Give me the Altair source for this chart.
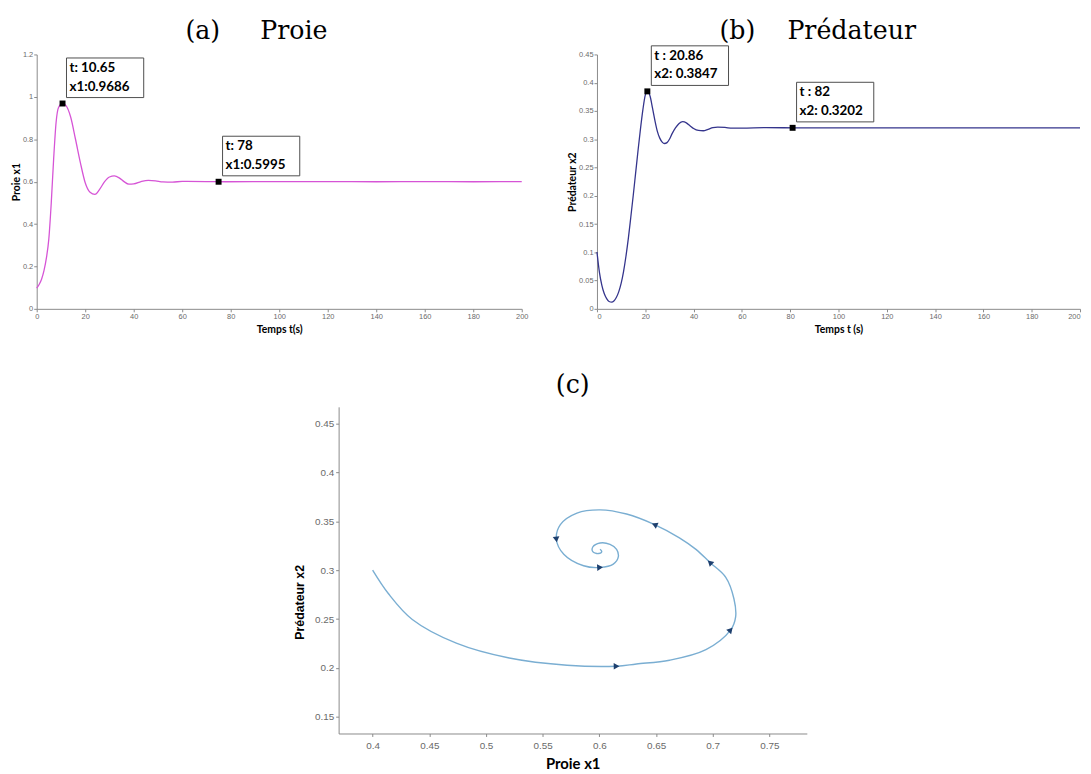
import math
import altair as alt
import pandas as pd

# ---------------- data ----------------
# (a) Proie x1 vs time
t_a = [0, 1, 2, 3, 4, 5, 6, 7, 8, 9, 10.65, 12, 14, 16, 18, 20, 22, 24, 26, 28, 30,
       32, 34, 36, 38, 40, 43, 46, 49, 52, 56, 60, 70, 78, 100, 120, 140, 160, 180, 200]
x1_a = [0.098, 0.115, 0.14, 0.18, 0.24, 0.33, 0.50, 0.71, 0.88, 0.95, 0.9686, 0.96, 0.905,
        0.80, 0.69, 0.595, 0.55, 0.54, 0.565, 0.60, 0.622, 0.627, 0.618, 0.600, 0.588,
        0.589, 0.600, 0.606, 0.604, 0.599, 0.598, 0.601, 0.600, 0.5995, 0.600, 0.600,
        0.5995, 0.600, 0.5995, 0.600]

# (b) Prédateur x2 vs time
t_b = [0, 1, 2, 3, 4, 5, 6.1, 7, 8, 9, 10, 11, 12, 13, 14, 15, 16, 17, 18, 19, 20, 20.86,
       22, 23, 24, 25, 26, 27, 28, 29, 30, 31, 32.5, 34, 35.5, 37, 38.5, 40, 42, 44, 46,
       48, 50, 53, 56, 60, 70, 82, 100, 120, 140, 160, 180, 200]
x2_b = [0.1006, 0.065, 0.042, 0.027, 0.018, 0.013, 0.012, 0.014, 0.02, 0.03, 0.045, 0.066,
        0.093, 0.125, 0.162, 0.2, 0.24, 0.28, 0.318, 0.352, 0.378, 0.3847, 0.376, 0.355,
        0.333, 0.314, 0.302, 0.295, 0.2925, 0.294, 0.30, 0.309, 0.32, 0.328, 0.331, 0.329,
        0.324, 0.319, 0.3155, 0.315, 0.3175, 0.3205, 0.3215, 0.321, 0.3195, 0.3195,
        0.3205, 0.3202, 0.320, 0.320, 0.320, 0.320, 0.320, 0.320]

# (c) phase portrait x1 -> x2
x1_c = [0.4000, 0.4140, 0.4350, 0.4738, 0.5205, 0.5715, 0.6152, 0.6327, 0.6619, 0.6940,
        0.7158, 0.7202, 0.7187, 0.7115, 0.6975, 0.6852, 0.6706, 0.6487, 0.6240, 0.6006,
        0.5802, 0.5656, 0.5621, 0.5686, 0.5861, 0.6006, 0.6123, 0.6167, 0.6152, 0.6094,
        0.6006, 0.5942, 0.5942, 0.5992, 0.6021, 0.6006]
x2_c = [0.3001, 0.2759, 0.2496, 0.2254, 0.2102, 0.2028, 0.2018, 0.2041, 0.2079, 0.2187,
        0.2389, 0.2523, 0.2708, 0.2927, 0.3079, 0.3213, 0.3331, 0.3466, 0.3574, 0.3617,
        0.3584, 0.3466, 0.3314, 0.3163, 0.3045, 0.3028, 0.3062, 0.3136, 0.3213, 0.3264,
        0.3278, 0.3237, 0.3190, 0.3170, 0.3190, 0.3213]
arrow_idx_c = [6, 10, 14, 17, 22, 25]

# data tips
tip_a_t = [10.65, 75]
tip_a_v = [0.9686, 0.5995]
tip_a_l1 = [" t: 10.65", " t: 78"]
tip_a_l2 = ["x1:0.9686", "x1:0.5995"]

tip_b_t = [20.86, 81]
tip_b_v = [0.3847, 0.3202]
tip_b_l1 = [" t : 20.86", " t : 82"]
tip_b_l2 = ["x2: 0.3847", "x2: 0.3202"]

x_ticks_time = [0, 20, 40, 60, 80, 100, 120, 140, 160, 180, 200]
y_ticks_a = [0, 0.2, 0.4, 0.6, 0.8, 1.0, 1.2]
y_ticks_b = [0, 0.05, 0.1, 0.15, 0.2, 0.25, 0.3, 0.35, 0.4, 0.45]
x_ticks_c = [0.4, 0.45, 0.5, 0.55, 0.6, 0.65, 0.7, 0.75]
y_ticks_c = [0.15, 0.2, 0.25, 0.3, 0.35, 0.4, 0.45]

# ---------------- styles ----------------
SERIF = "DejaVu Serif"
SANS = "Liberation Sans"
BOLD = "Lato"
AXIS_GREY = "#8a8a8a"
LABEL_GREY = "#6a6a6a"
TITLE_SIZE = 25.5


def small_axis(values, title, title_pad, flush=False):
    return alt.Axis(values=values, title=title, grid=False, format="~r",
                    domainColor=AXIS_GREY, tickColor=AXIS_GREY, tickSize=3,
                    labelColor=LABEL_GREY, labelFont=SANS, labelFontSize=7.5,
                    labelPadding=1, labelOverlap=False, titleFont=BOLD,
                    titleFontWeight="bold", titleFontSize=10.5, titleColor="black",
                    titlePadding=title_pad, labelFlush=flush)


def time_panel(t, v, ymax, yticks, color, ytitle, xtitle, title, tdx, toff,
               tip_t, tip_v, tip_l1, tip_l2, width, height, flush=False):
    df = pd.DataFrame({"t": t, "v": v})
    xs = alt.Scale(domain=[0, 200], nice=False, zero=False)
    ys = alt.Scale(domain=[0, ymax], nice=False, zero=False)
    xe = alt.X("t:Q", scale=xs, axis=small_axis(x_ticks_time, xtitle, 4, flush))
    ye = alt.Y("v:Q", scale=ys, axis=small_axis(yticks, ytitle, 1))
    line = alt.Chart(df).mark_line(color=color, strokeWidth=1.3,
                                   interpolate="monotone").encode(x=xe, y=ye)
    tips = pd.DataFrame({"t": tip_t, "v": tip_v,
                         "label": [a + "\n" + b for a, b in zip(tip_l1, tip_l2)]})
    box = alt.Chart(tips).mark_rect(fill="white", stroke="#4d4d4d", strokeWidth=1,
                                    xOffset=4, x2Offset=82, yOffset=-46, y2Offset=-6).encode(
        x=xe, x2="t:Q", y=ye, y2="v:Q")
    txt = alt.Chart(tips).mark_text(align="left", baseline="top", dx=7, dy=-43,
                                    lineBreak="\n", lineHeight=19, font=BOLD,
                                    fontWeight="bold", fontSize=13.5, color="black").encode(
        x=xe, y=ye, text="label:N")
    mk = alt.Chart(tips).mark_square(size=36, color="black", opacity=1).encode(x=xe, y=ye)
    return alt.layer(line, box, mk, txt).properties(
        width=width, height=height,
        title=alt.TitleParams(title, font=SERIF, fontSize=TITLE_SIZE, fontWeight="normal",
                              color="black", baseline="alphabetic", offset=toff, dx=tdx,
                              frame="group"))


panel_a = time_panel(t_a, x1_a, 1.2, y_ticks_a, "#d654d6", "Proie x1", "Temps t(s)",
                     "(a)" + "\u00a0" * 5 + "Proie", -23, -14, tip_a_t, tip_a_v,
                     tip_a_l1, tip_a_l2, 490, 257)
panel_b = time_panel(t_b, x2_b, 0.45, y_ticks_b, "#34348c", "Prédateur x2", "Temps t (s)",
                     "(b)" + "\u00a0" * 4 + "Prédateur", -21, -19, tip_b_t, tip_b_v,
                     tip_b_l1, tip_b_l2, 488, 257, flush=True)

# phase portrait (plot area reaches left of its grid cell: x range starts negative)
df_c = pd.DataFrame({"i": list(range(len(x1_c))), "x1": x1_c, "x2": x2_c})
C_LEFT = -261
C_RIGHT = 212
C_H = 330
PX_X = (C_RIGHT - C_LEFT) / (0.783 - 0.37)
PX_Y = C_H / (0.467 - 0.133)
arrows = []
for k in arrow_idx_c:
    dx = (x1_c[k + 1] - x1_c[k - 1]) * PX_X
    dy = (x2_c[k + 1] - x2_c[k - 1]) * PX_Y
    ang = math.degrees(math.atan2(dx, dy)) % 360
    arrows.append({"x1": x1_c[k], "x2": x2_c[k], "ang": ang})
df_arrows = pd.DataFrame(arrows)

xsc = alt.Scale(domain=[0.37, 0.783], range=[C_LEFT, C_RIGHT], nice=False, zero=False)
ysc = alt.Scale(domain=[0.133, 0.467], nice=False, zero=False)
ax_c = dict(grid=False, domainColor=AXIS_GREY, tickColor=AXIS_GREY, tickSize=3,
            labelColor=LABEL_GREY, labelFont=SANS, labelFontSize=10, format="~r",
            labelOverlap=False, titleColor="black", titleFontWeight="bold")
xce = alt.X("x1:Q", scale=xsc,
            axis=alt.Axis(values=x_ticks_c, title="Proie x1", labelPadding=4,
                          titleFont=BOLD, titleFontSize=15, titlePadding=6, **ax_c))
yce = alt.Y("x2:Q", scale=ysc,
            axis=alt.Axis(values=y_ticks_c, title="Prédateur x2", labelPadding=2,
                          offset=-C_LEFT, titleFont=SANS, titleFontSize=12.5,
                          titlePadding=8, titleY=197, **ax_c))
path = alt.Chart(df_c).mark_line(color="#7aaed2", strokeWidth=1.4,
                                 interpolate="catmull-rom").encode(
    x=xce, y=yce, order=alt.Order("i:Q"))
heads = alt.Chart(df_arrows).mark_point(shape="triangle-up", filled=True, size=45,
                                        color="#1d3f6e", opacity=1).encode(
    x=xce, y=yce, angle=alt.Angle("ang:Q", scale=None))
panel_c = alt.layer(path, heads).properties(
    width=C_RIGHT, height=C_H,
    title=alt.TitleParams("(c)", font=SERIF, fontSize=TITLE_SIZE, fontWeight="normal",
                          color="black", baseline="alphabetic", offset=-12,
                          dx=C_LEFT / 2.0, frame="group"))

spacer = alt.Chart(pd.DataFrame({"z": [0]})).mark_text(text=" ").encode(
    x=alt.value(0), y=alt.value(0)).properties(width=10, height=10)

chart = alt.concat(panel_a, panel_b, spacer, panel_c, columns=2,
                   spacing={"row": 99, "column": 76}, bounds="flush").properties(
    padding={"left": 3, "top": 7, "right": 0, "bottom": 0}, background="white"
).configure_view(stroke=None)

chart.save("out.html", embed_options={"renderer": "svg", "actions": False})
